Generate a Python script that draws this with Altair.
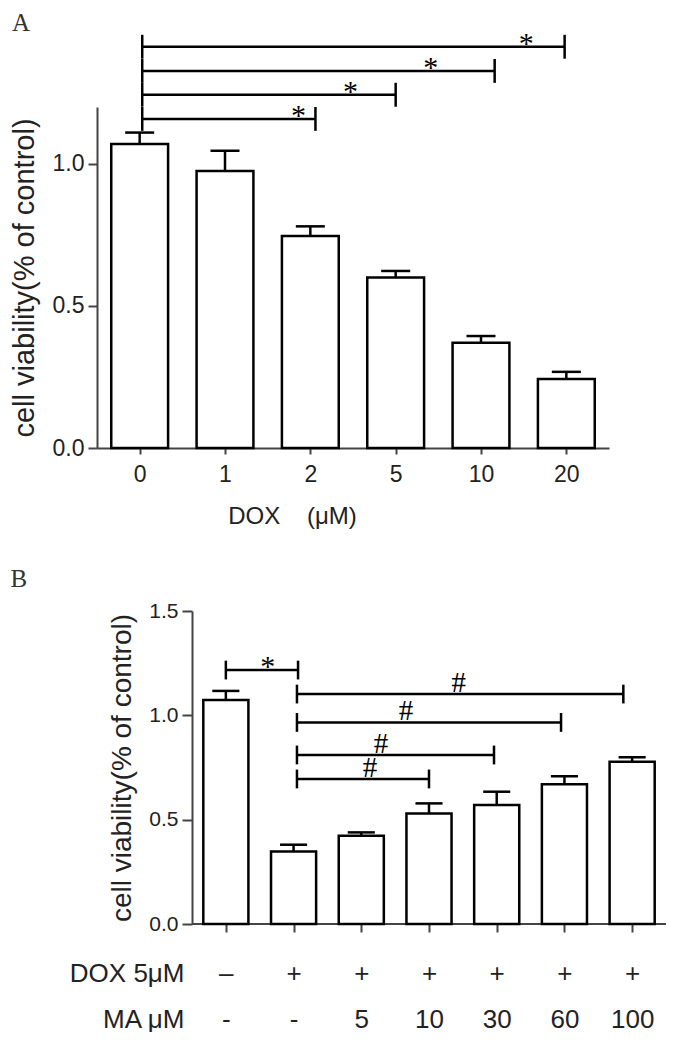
import json
import altair as alt
import pandas as pd

# ---------------- Panel A data ----------------
a_doses = ["0", "1", "2", "5", "10", "20"]
a_mean = [1.070, 0.975, 0.746, 0.600, 0.370, 0.243]
a_sem = [0.040, 0.071, 0.034, 0.023, 0.024, 0.025]
a_brk_from = [0.53, 0.53, 0.53, 0.53]
a_brk_to = [2.56, 3.50, 4.66, 5.48]
a_brk_y = [1.158, 1.243, 1.327, 1.412]
a_mark_x = [2.36, 2.97, 3.91, 5.03]
a_mark_text = ["*", "*", "*", "*"]

# ---------------- Panel B data ----------------
b_dox = ["–", "+", "+", "+", "+", "+", "+"]
b_ma = ["-", "-", "5", "10", "30", "60", "100"]
b_mean = [1.073, 0.347, 0.423, 0.530, 0.570, 0.670, 0.778]
b_sem = [0.044, 0.033, 0.016, 0.048, 0.064, 0.038, 0.021]
b_brk_from = [0.50, 1.55, 1.55, 1.55, 1.55]
b_brk_to = [1.566, 6.37, 5.45, 4.46, 3.50]
b_brk_y = [1.217, 1.102, 0.966, 0.810, 0.695]
b_mark_x = [1.12, 3.94, 3.16, 2.79, 2.63]
b_mark_text = ["*", "#", "#", "#", "#"]

SANS = "Liberation Sans"
SERIF = "Liberation Serif"
INK = "#222222"
AXC = "#444444"
GLYPH = {"*": {"size": 30, "dy": 6}, "#": {"size": 29, "dy": -2}}

# panel B plot is shifted right of panel A by this many pixels
B_SHIFT = 95
B_STEP = 474 / 7


def panel(mean, sem, cap_half, brk_from, brk_to, brk_y, mark_x, mark_text,
          tick_half, width, height, xdom, ydom, xaxis, yaxis, letter, lx, ly,
          own_baseline=False):
    n = len(mean)
    xs = alt.Scale(domain=xdom, nice=False, zero=False)
    ys = alt.Scale(domain=ydom, nice=False, zero=True)

    def X(f):
        return alt.X(f, scale=xs, axis=xaxis)

    def Y(f):
        return alt.Y(f, scale=ys, axis=yaxis)

    bars = pd.DataFrame({
        "u": [i + 0.5 for i in range(n)],
        "mean": mean,
        "top": [m + s for m, s in zip(mean, sem)],
    })
    bars["lo"] = bars["u"] - 0.333
    bars["hi"] = bars["u"] + 0.333
    bars["cl"] = bars["u"] - cap_half
    bars["cr"] = bars["u"] + cap_half
    bars["base"] = 0.0

    layers = []
    if own_baseline:
        base = pd.DataFrame({"x1": [0], "x2": [n], "y": [0.0]})
        layers.append(
            alt.Chart(base).mark_rule(color=AXC, strokeWidth=2).encode(
                x=X("x1:Q"), x2="x2:Q", y=Y("y:Q"))
        )

    bar = alt.Chart(bars).mark_bar(fill="white", stroke="black", strokeWidth=2.5).encode(
        x=X("lo:Q"), x2="hi:Q", y=Y("mean:Q"), y2="base:Q",
    )
    stem = alt.Chart(bars).mark_rule(color="black", strokeWidth=2.5).encode(
        x=X("u:Q"), y=Y("mean:Q"), y2="top:Q",
    )
    cap = alt.Chart(bars).mark_rule(color="black", strokeWidth=2.5).encode(
        x=X("cl:Q"), x2="cr:Q", y=Y("top:Q"),
    )

    brk = pd.DataFrame({"x1": brk_from, "x2": brk_to, "y": brk_y})
    line = alt.Chart(brk).mark_rule(color="black", strokeWidth=2.5).encode(
        x=X("x1:Q"), x2="x2:Q", y=Y("y:Q"),
    )
    ends = pd.DataFrame({
        "x": list(brk_from) + list(brk_to),
        "y": list(brk_y) * 2,
    })
    ends["ya"] = ends["y"] - tick_half
    ends["yb"] = ends["y"] + tick_half
    endticks = alt.Chart(ends).mark_rule(color="black", strokeWidth=2.5).encode(
        x=X("x:Q"), y=Y("ya:Q"), y2="yb:Q",
    )
    layers += [bar, stem, cap, line, endticks]

    marks = pd.DataFrame({"x": mark_x, "y": brk_y, "t": mark_text})
    for g in sorted(set(mark_text)):
        sub = marks[marks["t"] == g]
        layers.append(
            alt.Chart(sub).mark_text(font=SERIF, fontSize=GLYPH[g]["size"], color="black",
                                     baseline="alphabetic", align="center",
                                     dy=GLYPH[g]["dy"]).encode(
                x=X("x:Q"), y=Y("y:Q"), text="t:N",
            )
        )
    lab = alt.Chart(pd.DataFrame({"t": [letter]})).mark_text(
        font=SERIF, fontSize=25, color="#333333", align="left", baseline="alphabetic"
    ).encode(x=alt.value(lx), y=alt.value(ly), text="t:N")
    layers.append(lab)
    return alt.layer(*layers).properties(width=width, height=height)


# ---------------- axes ----------------
a_label_js = json.dumps(a_doses, ensure_ascii=False)
a_xaxis = alt.Axis(
    values=[i + 0.5 for i in range(len(a_doses))],
    labelExpr=f"{a_label_js}[floor(datum.value)]",
    title="DOX\u00a0\u00a0\u00a0\u00a0(μM)",
    titleX=195, titleY=68, titleBaseline="middle", titleAlign="center",
    titleFont=SANS, titleFontSize=24, titleFontWeight="normal", titleColor=INK,
    labelFont=SANS, labelFontSize=23, labelColor=INK, labelPadding=9,
    labelBaseline="top", labelFlush=False, labelOverlap=False,
    tickSize=6, tickWidth=2, tickColor=AXC, domainWidth=2, domainColor=AXC, grid=False,
)
a_yaxis = alt.Axis(
    values=[0, 0.5, 1.0], format=".1f",
    title="cell viability(% of control)",
    titleX=-73, titleBaseline="middle", titleAlign="center",
    titleFont=SANS, titleFontSize=29, titleFontWeight="normal", titleColor=INK,
    labelFont=SANS, labelFontSize=23, labelColor=INK, labelPadding=4,
    tickSize=9, tickWidth=2, tickColor=AXC, domainWidth=2, domainColor=AXC, grid=False,
    labelFlush=False,
)

b_label_js = json.dumps([[d, m] for d, m in zip(b_dox, b_ma)], ensure_ascii=False)
b_xaxis = alt.Axis(
    values=[i + 0.5 for i in range(len(b_dox))],
    labelExpr=f"{b_label_js}[floor(datum.value)]",
    title=["DOX 5μM", "MA μM"],
    titleX=B_SHIFT - 8, titleY=49, titleBaseline="middle", titleAlign="right",
    titleLineHeight=46,
    titleFont=SANS, titleFontSize=26, titleFontWeight="normal", titleColor=INK,
    labelFont=SANS, labelFontSize=26, labelColor=INK, labelPadding=41,
    labelBaseline="middle", labelLineHeight=46, labelFlush=False, labelOverlap=False,
    tickSize=8, tickWidth=2, tickColor=AXC, domain=False, grid=False,
)
b_yaxis = alt.Axis(
    values=[0, 0.5, 1.0, 1.5], format=".1f", offset=-B_SHIFT,
    title="cell viability(% of control)",
    titleX=-70, titleBaseline="middle", titleAlign="center",
    titleFont=SANS, titleFontSize=28, titleFontWeight="normal", titleColor=INK,
    labelFont=SANS, labelFontSize=21, labelColor=INK, labelPadding=4,
    tickSize=10, tickWidth=2, tickColor=AXC, domainWidth=2, domainColor=AXC, grid=False,
    labelFlush=False,
)

panel_a = panel(a_mean, a_sem, 0.17, a_brk_from, a_brk_to, a_brk_y, a_mark_x, a_mark_text,
                0.042, 512, 341, [0, 6], [0, 1.2], a_xaxis, a_yaxis, "A", -85, -76)
panel_b = panel(b_mean, b_sem, 0.2, b_brk_from, b_brk_to, b_brk_y, b_mark_x, b_mark_text,
                0.045, 474 + B_SHIFT, 313, [-B_SHIFT / B_STEP, 7], [0, 1.5],
                b_xaxis, b_yaxis, "B", -86.5, -24, own_baseline=True)

chart = alt.vconcat(panel_a, panel_b, spacing=39).properties(
    padding={"left": 1, "top": 3, "right": 0, "bottom": 0},
    background="white",
).configure_view(stroke=None)

chart.save("out.html", embed_options={"renderer": "svg", "actions": False})
